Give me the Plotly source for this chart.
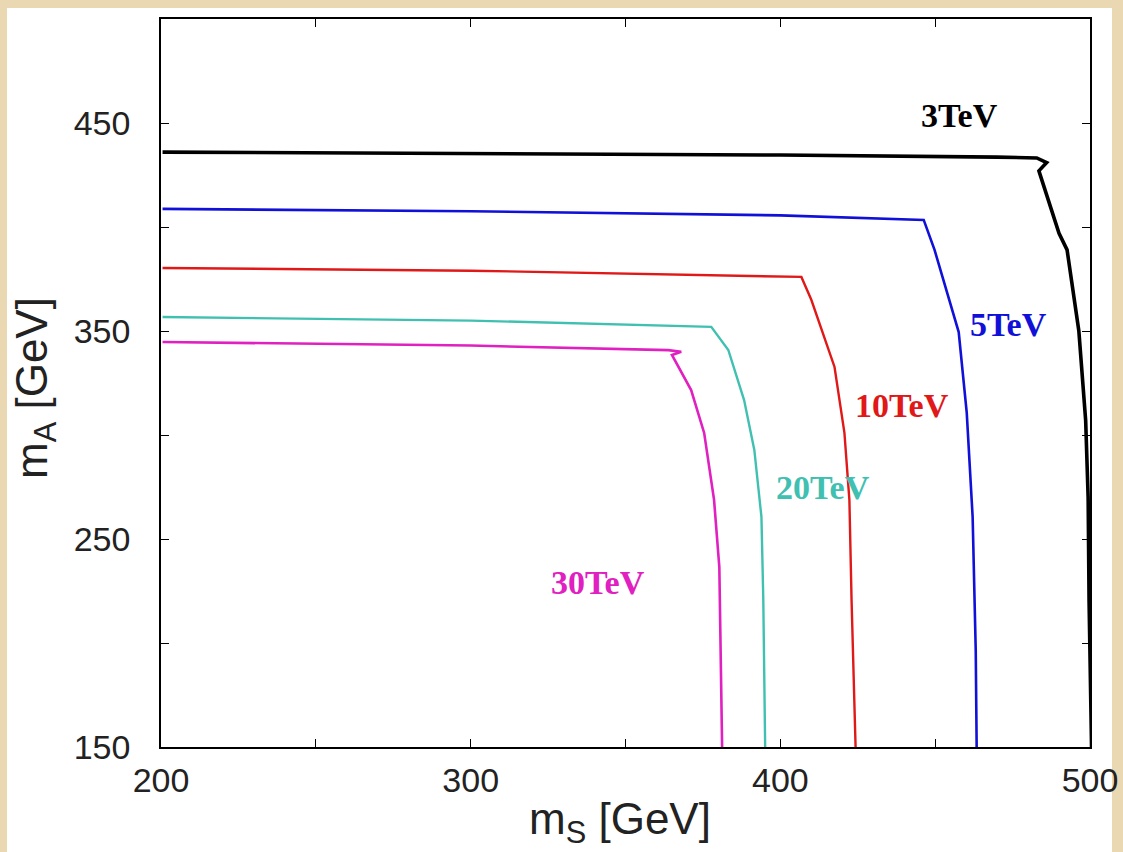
import plotly.graph_objects as go

# ---- data ----
labels = ["3TeV", "5TeV", "10TeV", "20TeV", "30TeV"]
colors = ["#000000", "#1010d8", "#e01818", "#40c0b0", "#e020c0"]

black_x = [200.5, 300, 400, 470, 482.8, 486.0, 483.5, 490.0, 492.6, 496.4, 498.6, 499.4, 499.7, 500.5]
black_y = [436.0, 435.4, 434.6, 433.6, 433.2, 431.0, 427.0, 397.0, 389.0, 350.0, 307.0, 270.0, 220.0, 150.0]

blue_x = [200.5, 300, 400, 446.3, 449.8, 454.4, 457.6, 460.2, 462.1, 463.1, 463.4]
blue_y = [408.7, 407.6, 405.6, 403.4, 389.0, 365.0, 349.5, 310.6, 260.6, 196.6, 150.0]

red_x = [200.5, 300, 406.8, 410.0, 417.5, 420.7, 422.3, 423.0, 424.3]
red_y = [380.3, 379.0, 376.0, 365.0, 332.7, 301.0, 268.8, 220.7, 150.0]

cyan_x = [200.5, 300, 377.7, 383.2, 388.3, 391.6, 393.9, 394.5, 395.1]
cyan_y = [356.7, 355.0, 352.0, 340.9, 316.8, 292.8, 260.6, 220.7, 150.0]

mag_x = [200.5, 300, 363.8, 368.0, 365.0, 371.2, 375.4, 378.6, 380.3, 381.2]
mag_y = [344.7, 343.0, 340.8, 340.0, 338.5, 321.6, 301.0, 268.8, 236.5, 150.0]

label_x = [458.0, 473.8, 439.2, 413.9, 341.1]
label_y = [453.8, 352.9, 314.4, 275.0, 229.3]

series = [(black_x, black_y), (blue_x, blue_y), (red_x, red_y), (cyan_x, cyan_y), (mag_x, mag_y)]
widths = [3.6, 2.6, 2.4, 2.4, 2.6]

fig = go.Figure()
for (xs, ys), c, w, name in zip(series, colors, widths, labels):
    fig.add_trace(go.Scatter(x=xs, y=ys, mode="lines", line=dict(color=c, width=w),
                             name=name, showlegend=False))

for lx, ly, t, c in zip(label_x, label_y, labels, colors):
    fig.add_annotation(x=lx, y=ly, text="<b>" + t + "</b>", showarrow=False,
                       font=dict(family="Liberation Serif", size=34, color=c))

# axis titles
fig.add_annotation(xref="paper", yref="paper", x=(620 - 161) / 929, y=(747 - 822) / 728,
                   xanchor="center", yanchor="middle",
                   text="m<sub>S</sub> [GeV]", showarrow=False,
                   font=dict(family="Liberation Sans", size=44, color="#222222"))
fig.add_annotation(xref="paper", yref="paper", x=(35 - 161) / 929, y=(747 - 388) / 728,
                   xanchor="center", yanchor="middle",
                   text="m<sub>A</sub> [GeV]", showarrow=False, textangle=-90,
                   font=dict(family="Liberation Sans", size=44, color="#222222"))

# white inner panel on parchment background
fig.add_shape(type="rect", xref="paper", yref="paper",
              x0=(7 - 161) / 929, x1=(1112 - 161) / 929,
              y0=(747 - 860) / 728, y1=(747 - 8) / 728,
              fillcolor="white", line=dict(width=0), layer="below")

axis_common = dict(showgrid=False, zeroline=False, showline=True, linecolor="black",
                   linewidth=1.6, mirror="ticks", ticks="inside", ticklen=8,
                   tickcolor="black", tickwidth=1.3, automargin=False,
                   ticklabeloverflow="allow",
                   minor=dict(ticks="inside", ticklen=8, tickcolor="black", tickwidth=1.3, dtick=50),
                   tickfont=dict(family="Liberation Sans", size=34, color="#222222"))

fig.update_xaxes(range=[200, 500], tick0=200, dtick=100,
                 ticklabelstandoff=2, **axis_common)
fig.update_yaxes(range=[150, 500], tick0=150, dtick=100,
                 ticklabelstandoff=22, **axis_common)

fig.update_layout(width=1123, height=852, autosize=False,
                  margin=dict(l=161, r=33, t=19, b=105),
                  paper_bgcolor="#e9d8b2", plot_bgcolor="white",
                  showlegend=False)

fig.write_html("out.html",
               config={"responsive": False, "displayModeBar": False},
               post_script="document.body.style.margin='0';document.body.style.overflow='hidden';document.body.style.background='#e9d8b2';")
